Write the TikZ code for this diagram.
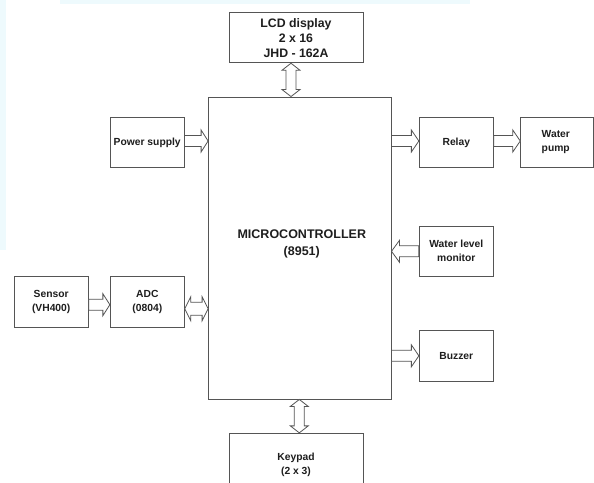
\documentclass[tikz,border=0pt]{standalone}
\usepackage{fontspec}
\setmainfont{Liberation Sans}
\usetikzlibrary{calc}
\definecolor{ln}{RGB}{85,85,85}
\definecolor{tx}{RGB}{30,30,30}
\definecolor{tint}{RGB}{238,250,253}
% horizontal block arrow: from x of #1 to tip at x of #2, signed head length #3, vertical offset #4
\newcommand\harrow[4]{\draw[blk] let \p1=($(#1)+(0,#4pt)$), \p2=(#2), \p3=($(\p2)-(#3pt,0)$) in
 (\x1,\y1+5.5pt) -- (\x3,\y1+5.5pt) -- (\x3,\y1+11pt) -- (\x2,\y1)
 -- (\x3,\y1-11pt) -- (\x3,\y1-5.5pt) -- (\x1,\y1-5.5pt) -- cycle;}
% horizontal double block arrow between x of #1 (left) and x of #2 (right), offset #3
\newcommand\hdarrow[3]{\draw[blk] let \p1=($(#1)+(0,#3pt)$), \p2=(#2) in
 (\x1,\y1) -- (\x1+6pt,\y1+12pt) -- (\x1+6pt,\y1+6.5pt) -- (\x2-6pt,\y1+6.5pt)
 -- (\x2-6pt,\y1+12pt) -- (\x2,\y1) -- (\x2-6pt,\y1-12pt) -- (\x2-6pt,\y1-6.5pt)
 -- (\x1+6pt,\y1-6.5pt) -- (\x1+6pt,\y1-12pt) -- cycle;}
% vertical double block arrow between y of #1 (top) and y of #2 (bottom), x offset #3
\newcommand\vdarrow[3]{\draw[blk] let \p1=($(#1)+(#3pt,0)$), \p2=(#2) in
 (\x1,\y1) -- (\x1+9pt,\y1-7pt) -- (\x1+5pt,\y1-7pt) -- (\x1+5pt,\y2+7pt)
 -- (\x1+9pt,\y2+7pt) -- (\x1,\y2) -- (\x1-9pt,\y2+7pt) -- (\x1-5pt,\y2+7pt)
 -- (\x1-5pt,\y1-7pt) -- (\x1-9pt,\y1-7pt) -- cycle;}
\begin{document}
\begin{tikzpicture}[x=1pt,y=-1pt,
  box/.style={draw=ln,line width=0.9pt,rectangle,inner sep=0pt,text=tx,
    font=\bfseries\fontsize{10.3}{14}\selectfont,align=center},
  mctext/.style={text=tx,font=\bfseries\fontsize{12.5}{17}\selectfont,align=center,inner sep=0pt},
  blk/.style={draw=ln,line width=0.8pt,fill=white,line join=miter}]
\useasboundingbox (0,0) rectangle (594,482);
\fill[white] (0,0) rectangle (594,482);
\fill[tint] (0,0) rectangle (6,250);
\fill[tint] (60,0) rectangle (470,3.5);

\node[box,minimum width=134,minimum height=50,font=\bfseries\fontsize{12.3}{15}\selectfont]
  (lcd) at (296,37.8) {LCD display\\2 x 16\\JHD - 162A};
\node[box,minimum width=182.5,minimum height=302,
  label={[mctext,yshift=4.5pt,xshift=2pt]center:{MICROCONTROLLER\\(8951)}}]
  (mc) at (299.8,248) {};
\node[box,minimum width=73.7,minimum height=50.4] (pow) at (147.2,142.5) {Power supply};
\node[box,minimum width=74,minimum height=50.4] (rel) at (456.3,142.5) {Relay};
\node[box,minimum width=73,minimum height=50.4,text width=31,align=left] (pump) at (557.2,142.5) {Water\\pump};
\node[box,minimum width=74,minimum height=50] (wl) at (456.3,251.3) {Water level\\monitor};
\node[box,minimum width=74,minimum height=51] (buz) at (456.3,355.8) {Buzzer};
\node[box,minimum width=74.3,minimum height=50.7] (sen) at (51.2,301.7) {Sensor\\(VH400)};
\node[box,minimum width=74,minimum height=50.7] (adc) at (147.3,301.7) {ADC\\(0804)};
\node[box,minimum width=134,minimum height=64] (key) at (296,465.3) {Keypad\\(2 x 3)};

\harrow{pow.east}{mc.west}{7}{1.5}
\harrow{mc.east |- rel.west}{rel.west}{7.5}{1.5}
\harrow{rel.east}{pump.west}{7.5}{1.5}
\harrow{wl.west}{mc.east}{-8}{0}
\harrow{mc.east |- buz.west}{buz.west}{7.5}{0}
\harrow{sen.east}{adc.west}{7}{-3}
\hdarrow{adc.east}{mc.west}{-7}
\vdarrow{lcd.south}{mc.north}{-5}
\vdarrow{mc.south}{key.north}{-0.5}
\end{tikzpicture}
\end{document}
